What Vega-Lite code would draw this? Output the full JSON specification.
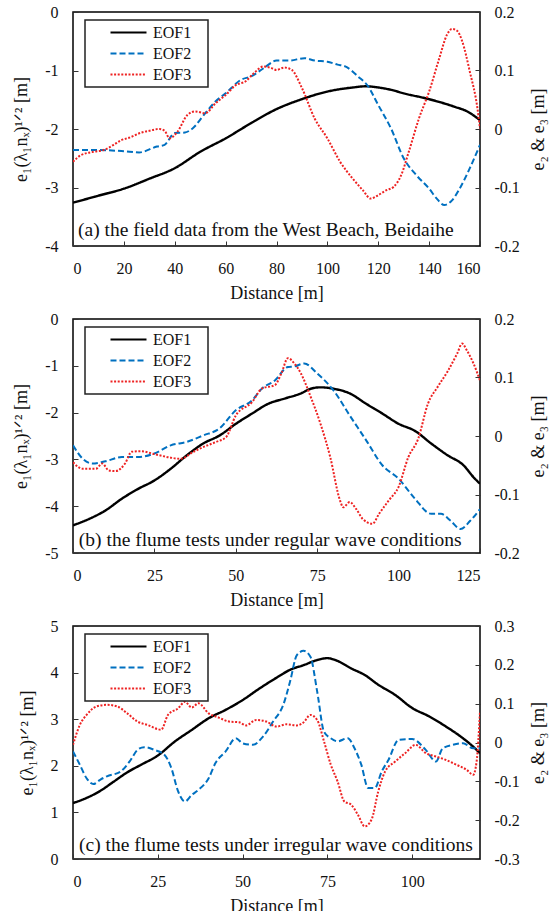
{
  "$schema": "https://vega.github.io/schema/vega-lite/v6.json",
  "background": "white",
  "padding": {"left": 11, "top": 3, "right": 3, "bottom": 5},
  "config": {
    "font": "Liberation Serif, Times New Roman, DejaVu Serif, serif",
    "view": {"stroke": "black", "strokeWidth": 1.5},
    "axis": {"grid": false, "domain": false, "labelFont": "Liberation Serif, Times New Roman, DejaVu Serif, serif", "titleFont": "Liberation Serif, Times New Roman, DejaVu Serif, serif", "labelFontSize": 16, "titleFontSize": 18, "titleFontWeight": "normal", "labelColor": "#111", "titleColor": "#111", "tickColor": "#333", "tickSize": -5, "tickWidth": 1},
    "legend": {"orient": "none", "legendX": 12, "legendY": 8, "strokeColor": "#222", "strokeWidth": 1.5, "fillColor": "white", "padding": 4, "symbolType": "M-2.571,0H2.571", "symbolSize": 196, "symbolOffset": 31, "symbolStrokeWidth": 2.2, "labelFont": "Liberation Serif, Times New Roman, DejaVu Serif, serif", "labelFontSize": 16, "labelColor": "#111", "labelOffset": 16, "rowPadding": 4, "titleOrient": "right", "titleOpacity": 0, "titleFontSize": 16, "titlePadding": 0, "titleFont": "DejaVu Sans"}
  },
  "datasets": {
    "curves": [
      {"panel":"a","series":"EOF1","distance":0,"value":-3.26},{"panel":"a","series":"EOF1","distance":10,"value":-3.14},{"panel":"a","series":"EOF1","distance":20,"value":-3.02},{"panel":"a","series":"EOF1","distance":30,"value":-2.85},{"panel":"a","series":"EOF1","distance":40,"value":-2.67},{"panel":"a","series":"EOF1","distance":50,"value":-2.39},{"panel":"a","series":"EOF1","distance":60,"value":-2.16},{"panel":"a","series":"EOF1","distance":70,"value":-1.9},{"panel":"a","series":"EOF1","distance":80,"value":-1.66},{"panel":"a","series":"EOF1","distance":90,"value":-1.49},{"panel":"a","series":"EOF1","distance":100,"value":-1.36},{"panel":"a","series":"EOF1","distance":110,"value":-1.29},{"panel":"a","series":"EOF1","distance":115,"value":-1.27},{"panel":"a","series":"EOF1","distance":120,"value":-1.29},{"panel":"a","series":"EOF1","distance":125,"value":-1.33},{"panel":"a","series":"EOF1","distance":130,"value":-1.39},{"panel":"a","series":"EOF1","distance":140,"value":-1.49},{"panel":"a","series":"EOF1","distance":150,"value":-1.62},{"panel":"a","series":"EOF1","distance":155,"value":-1.7},{"panel":"a","series":"EOF1","distance":160,"value":-1.85},

      {"panel":"a","series":"EOF2","distance":0,"value":-0.036},{"panel":"a","series":"EOF2","distance":10,"value":-0.036},{"panel":"a","series":"EOF2","distance":20,"value":-0.038},{"panel":"a","series":"EOF2","distance":26,"value":-0.04},{"panel":"a","series":"EOF2","distance":33,"value":-0.03},{"panel":"a","series":"EOF2","distance":36,"value":-0.027},{"panel":"a","series":"EOF2","distance":40,"value":-0.007},{"panel":"a","series":"EOF2","distance":44,"value":-0.006},{"panel":"a","series":"EOF2","distance":47,"value":0.001},{"panel":"a","series":"EOF2","distance":52,"value":0.027},{"panel":"a","series":"EOF2","distance":56,"value":0.047},{"panel":"a","series":"EOF2","distance":60,"value":0.061},{"panel":"a","series":"EOF2","distance":66,"value":0.084},{"panel":"a","series":"EOF2","distance":70,"value":0.09},{"panel":"a","series":"EOF2","distance":75,"value":0.104},{"panel":"a","series":"EOF2","distance":80,"value":0.117},{"panel":"a","series":"EOF2","distance":85,"value":0.117},{"panel":"a","series":"EOF2","distance":91,"value":0.121},{"panel":"a","series":"EOF2","distance":95,"value":0.117},{"panel":"a","series":"EOF2","distance":100,"value":0.115},{"panel":"a","series":"EOF2","distance":104,"value":0.11},{"panel":"a","series":"EOF2","distance":107,"value":0.107},{"panel":"a","series":"EOF2","distance":112,"value":0.09},{"panel":"a","series":"EOF2","distance":116,"value":0.073},{"panel":"a","series":"EOF2","distance":120,"value":0.041},{"panel":"a","series":"EOF2","distance":125,"value":0.001},{"panel":"a","series":"EOF2","distance":130,"value":-0.05},{"panel":"a","series":"EOF2","distance":135,"value":-0.079},{"panel":"a","series":"EOF2","distance":140,"value":-0.102},{"panel":"a","series":"EOF2","distance":143,"value":-0.119},{"panel":"a","series":"EOF2","distance":146,"value":-0.13},{"panel":"a","series":"EOF2","distance":149,"value":-0.122},{"panel":"a","series":"EOF2","distance":152,"value":-0.102},{"panel":"a","series":"EOF2","distance":156,"value":-0.067},{"panel":"a","series":"EOF2","distance":160,"value":-0.027},

      {"panel":"a","series":"EOF3","distance":0,"value":-0.056},{"panel":"a","series":"EOF3","distance":3,"value":-0.045},{"panel":"a","series":"EOF3","distance":8,"value":-0.039},{"panel":"a","series":"EOF3","distance":12,"value":-0.036},{"panel":"a","series":"EOF3","distance":16,"value":-0.027},{"panel":"a","series":"EOF3","distance":19,"value":-0.019},{"panel":"a","series":"EOF3","distance":22,"value":-0.015},{"panel":"a","series":"EOF3","distance":27,"value":-0.006},{"panel":"a","series":"EOF3","distance":30,"value":-0.003},{"panel":"a","series":"EOF3","distance":34,"value":0.0},{"panel":"a","series":"EOF3","distance":36,"value":-0.003},{"panel":"a","series":"EOF3","distance":38,"value":-0.016},{"panel":"a","series":"EOF3","distance":41,"value":-0.005},{"panel":"a","series":"EOF3","distance":45,"value":0.024},{"panel":"a","series":"EOF3","distance":48,"value":0.03},{"panel":"a","series":"EOF3","distance":52,"value":0.027},{"panel":"a","series":"EOF3","distance":56,"value":0.044},{"panel":"a","series":"EOF3","distance":60,"value":0.058},{"panel":"a","series":"EOF3","distance":64,"value":0.075},{"panel":"a","series":"EOF3","distance":68,"value":0.082},{"panel":"a","series":"EOF3","distance":71,"value":0.095},{"panel":"a","series":"EOF3","distance":75,"value":0.107},{"panel":"a","series":"EOF3","distance":78,"value":0.104},{"panel":"a","series":"EOF3","distance":80,"value":0.101},{"panel":"a","series":"EOF3","distance":83,"value":0.105},{"panel":"a","series":"EOF3","distance":86,"value":0.101},{"panel":"a","series":"EOF3","distance":90,"value":0.07},{"panel":"a","series":"EOF3","distance":95,"value":0.018},{"panel":"a","series":"EOF3","distance":100,"value":-0.016},{"panel":"a","series":"EOF3","distance":105,"value":-0.056},{"panel":"a","series":"EOF3","distance":110,"value":-0.085},{"panel":"a","series":"EOF3","distance":114,"value":-0.105},{"panel":"a","series":"EOF3","distance":117,"value":-0.119},{"panel":"a","series":"EOF3","distance":120,"value":-0.113},{"panel":"a","series":"EOF3","distance":123,"value":-0.105},{"panel":"a","series":"EOF3","distance":126,"value":-0.099},{"panel":"a","series":"EOF3","distance":129,"value":-0.079},{"panel":"a","series":"EOF3","distance":132,"value":-0.039},{"panel":"a","series":"EOF3","distance":136,"value":0.018},{"panel":"a","series":"EOF3","distance":140,"value":0.064},{"panel":"a","series":"EOF3","distance":144,"value":0.121},{"panel":"a","series":"EOF3","distance":147,"value":0.161},{"panel":"a","series":"EOF3","distance":149,"value":0.171},{"panel":"a","series":"EOF3","distance":151,"value":0.168},{"panel":"a","series":"EOF3","distance":153,"value":0.15},{"panel":"a","series":"EOF3","distance":156,"value":0.098},{"panel":"a","series":"EOF3","distance":159,"value":0.035},{"panel":"a","series":"EOF3","distance":160,"value":0.001},

      {"panel":"b","series":"EOF1","distance":0,"value":-4.41},{"panel":"b","series":"EOF1","distance":5,"value":-4.27},{"panel":"b","series":"EOF1","distance":10,"value":-4.09},{"panel":"b","series":"EOF1","distance":15,"value":-3.84},{"panel":"b","series":"EOF1","distance":20,"value":-3.63},{"panel":"b","series":"EOF1","distance":25,"value":-3.45},{"panel":"b","series":"EOF1","distance":30,"value":-3.2},{"panel":"b","series":"EOF1","distance":35,"value":-2.91},{"panel":"b","series":"EOF1","distance":40,"value":-2.66},{"panel":"b","series":"EOF1","distance":45,"value":-2.49},{"panel":"b","series":"EOF1","distance":50,"value":-2.24},{"panel":"b","series":"EOF1","distance":55,"value":-2.02},{"panel":"b","series":"EOF1","distance":60,"value":-1.81},{"panel":"b","series":"EOF1","distance":65,"value":-1.7},{"panel":"b","series":"EOF1","distance":70,"value":-1.59},{"panel":"b","series":"EOF1","distance":73,"value":-1.49},{"panel":"b","series":"EOF1","distance":76,"value":-1.46},{"panel":"b","series":"EOF1","distance":80,"value":-1.49},{"panel":"b","series":"EOF1","distance":85,"value":-1.59},{"panel":"b","series":"EOF1","distance":90,"value":-1.81},{"panel":"b","series":"EOF1","distance":95,"value":-2.02},{"panel":"b","series":"EOF1","distance":100,"value":-2.24},{"panel":"b","series":"EOF1","distance":105,"value":-2.39},{"panel":"b","series":"EOF1","distance":110,"value":-2.66},{"panel":"b","series":"EOF1","distance":115,"value":-2.91},{"panel":"b","series":"EOF1","distance":120,"value":-3.13},{"panel":"b","series":"EOF1","distance":123,"value":-3.38},{"panel":"b","series":"EOF1","distance":125,"value":-3.52},

      {"panel":"b","series":"EOF2","distance":0,"value":-0.016},{"panel":"b","series":"EOF2","distance":3,"value":-0.039},{"panel":"b","series":"EOF2","distance":6,"value":-0.047},{"panel":"b","series":"EOF2","distance":10,"value":-0.043},{"panel":"b","series":"EOF2","distance":15,"value":-0.036},{"panel":"b","series":"EOF2","distance":20,"value":-0.036},{"panel":"b","series":"EOF2","distance":25,"value":-0.03},{"panel":"b","series":"EOF2","distance":30,"value":-0.016},{"panel":"b","series":"EOF2","distance":35,"value":-0.01},{"panel":"b","series":"EOF2","distance":40,"value":0.001},{"panel":"b","series":"EOF2","distance":45,"value":0.013},{"panel":"b","series":"EOF2","distance":50,"value":0.044},{"panel":"b","series":"EOF2","distance":55,"value":0.061},{"panel":"b","series":"EOF2","distance":58,"value":0.081},{"panel":"b","series":"EOF2","distance":62,"value":0.095},{"panel":"b","series":"EOF2","distance":66,"value":0.118},{"panel":"b","series":"EOF2","distance":68,"value":0.119},{"panel":"b","series":"EOF2","distance":71,"value":0.124},{"panel":"b","series":"EOF2","distance":75,"value":0.107},{"panel":"b","series":"EOF2","distance":80,"value":0.078},{"panel":"b","series":"EOF2","distance":85,"value":0.035},{"panel":"b","series":"EOF2","distance":90,"value":-0.007},{"panel":"b","series":"EOF2","distance":95,"value":-0.05},{"panel":"b","series":"EOF2","distance":100,"value":-0.073},{"panel":"b","series":"EOF2","distance":105,"value":-0.107},{"panel":"b","series":"EOF2","distance":110,"value":-0.133},{"panel":"b","series":"EOF2","distance":113,"value":-0.133},{"panel":"b","series":"EOF2","distance":116,"value":-0.145},{"panel":"b","series":"EOF2","distance":119,"value":-0.159},{"panel":"b","series":"EOF2","distance":122,"value":-0.145},{"panel":"b","series":"EOF2","distance":125,"value":-0.125},

      {"panel":"b","series":"EOF3","distance":0,"value":-0.045},{"panel":"b","series":"EOF3","distance":3,"value":-0.056},{"panel":"b","series":"EOF3","distance":7,"value":-0.056},{"panel":"b","series":"EOF3","distance":9,"value":-0.047},{"panel":"b","series":"EOF3","distance":11,"value":-0.059},{"panel":"b","series":"EOF3","distance":13,"value":-0.06},{"panel":"b","series":"EOF3","distance":16,"value":-0.047},{"panel":"b","series":"EOF3","distance":18,"value":-0.027},{"panel":"b","series":"EOF3","distance":21,"value":-0.026},{"panel":"b","series":"EOF3","distance":25,"value":-0.031},{"panel":"b","series":"EOF3","distance":30,"value":-0.037},{"panel":"b","series":"EOF3","distance":33,"value":-0.039},{"panel":"b","series":"EOF3","distance":37,"value":-0.027},{"panel":"b","series":"EOF3","distance":40,"value":-0.019},{"panel":"b","series":"EOF3","distance":44,"value":-0.01},{"panel":"b","series":"EOF3","distance":47,"value":-0.002},{"panel":"b","series":"EOF3","distance":50,"value":0.035},{"panel":"b","series":"EOF3","distance":55,"value":0.058},{"panel":"b","series":"EOF3","distance":58,"value":0.081},{"panel":"b","series":"EOF3","distance":62,"value":0.087},{"panel":"b","series":"EOF3","distance":64,"value":0.107},{"panel":"b","series":"EOF3","distance":66,"value":0.133},{"panel":"b","series":"EOF3","distance":68,"value":0.124},{"panel":"b","series":"EOF3","distance":70,"value":0.107},{"panel":"b","series":"EOF3","distance":73,"value":0.067},{"panel":"b","series":"EOF3","distance":76,"value":0.021},{"panel":"b","series":"EOF3","distance":79,"value":-0.036},{"panel":"b","series":"EOF3","distance":82,"value":-0.11},{"panel":"b","series":"EOF3","distance":83,"value":-0.122},{"panel":"b","series":"EOF3","distance":85,"value":-0.113},{"panel":"b","series":"EOF3","distance":87,"value":-0.125},{"panel":"b","series":"EOF3","distance":89,"value":-0.142},{"panel":"b","series":"EOF3","distance":92,"value":-0.15},{"panel":"b","series":"EOF3","distance":94,"value":-0.133},{"panel":"b","series":"EOF3","distance":97,"value":-0.11},{"panel":"b","series":"EOF3","distance":100,"value":-0.087},{"panel":"b","series":"EOF3","distance":103,"value":-0.036},{"panel":"b","series":"EOF3","distance":106,"value":-0.005},{"panel":"b","series":"EOF3","distance":109,"value":0.055},{"panel":"b","series":"EOF3","distance":112,"value":0.084},{"panel":"b","series":"EOF3","distance":115,"value":0.11},{"panel":"b","series":"EOF3","distance":118,"value":0.141},{"panel":"b","series":"EOF3","distance":119.5,"value":0.158},{"panel":"b","series":"EOF3","distance":121,"value":0.146},{"panel":"b","series":"EOF3","distance":123,"value":0.124},{"panel":"b","series":"EOF3","distance":125,"value":0.095},

      {"panel":"c","series":"EOF1","distance":0,"value":1.2},{"panel":"c","series":"EOF1","distance":4,"value":1.31},{"panel":"c","series":"EOF1","distance":8,"value":1.46},{"panel":"c","series":"EOF1","distance":12,"value":1.66},{"panel":"c","series":"EOF1","distance":16,"value":1.86},{"panel":"c","series":"EOF1","distance":20,"value":2.02},{"panel":"c","series":"EOF1","distance":25,"value":2.22},{"panel":"c","series":"EOF1","distance":30,"value":2.52},{"panel":"c","series":"EOF1","distance":35,"value":2.77},{"panel":"c","series":"EOF1","distance":40,"value":3.02},{"panel":"c","series":"EOF1","distance":45,"value":3.2},{"panel":"c","series":"EOF1","distance":50,"value":3.41},{"panel":"c","series":"EOF1","distance":55,"value":3.66},{"panel":"c","series":"EOF1","distance":60,"value":3.89},{"panel":"c","series":"EOF1","distance":64,"value":4.06},{"panel":"c","series":"EOF1","distance":68,"value":4.16},{"panel":"c","series":"EOF1","distance":72,"value":4.27},{"panel":"c","series":"EOF1","distance":75,"value":4.31},{"panel":"c","series":"EOF1","distance":78,"value":4.25},{"panel":"c","series":"EOF1","distance":82,"value":4.09},{"panel":"c","series":"EOF1","distance":86,"value":3.95},{"panel":"c","series":"EOF1","distance":90,"value":3.74},{"panel":"c","series":"EOF1","distance":95,"value":3.52},{"panel":"c","series":"EOF1","distance":100,"value":3.24},{"panel":"c","series":"EOF1","distance":105,"value":3.06},{"panel":"c","series":"EOF1","distance":110,"value":2.84},{"panel":"c","series":"EOF1","distance":115,"value":2.59},{"panel":"c","series":"EOF1","distance":118,"value":2.41},{"panel":"c","series":"EOF1","distance":120,"value":2.27},

      {"panel":"c","series":"EOF2","distance":0,"value":-0.023},{"panel":"c","series":"EOF2","distance":2,"value":-0.057},{"panel":"c","series":"EOF2","distance":4,"value":-0.092},{"panel":"c","series":"EOF2","distance":6,"value":-0.107},{"panel":"c","series":"EOF2","distance":8,"value":-0.096},{"panel":"c","series":"EOF2","distance":10,"value":-0.087},{"panel":"c","series":"EOF2","distance":14,"value":-0.075},{"panel":"c","series":"EOF2","distance":17,"value":-0.045},{"panel":"c","series":"EOF2","distance":19,"value":-0.019},{"panel":"c","series":"EOF2","distance":21,"value":-0.012},{"panel":"c","series":"EOF2","distance":24,"value":-0.019},{"panel":"c","series":"EOF2","distance":27,"value":-0.032},{"panel":"c","series":"EOF2","distance":29,"value":-0.066},{"panel":"c","series":"EOF2","distance":31,"value":-0.126},{"panel":"c","series":"EOF2","distance":33,"value":-0.152},{"panel":"c","series":"EOF2","distance":35,"value":-0.135},{"panel":"c","series":"EOF2","distance":37,"value":-0.122},{"panel":"c","series":"EOF2","distance":40,"value":-0.092},{"panel":"c","series":"EOF2","distance":42,"value":-0.053},{"panel":"c","series":"EOF2","distance":45,"value":-0.023},{"panel":"c","series":"EOF2","distance":48,"value":0.011},{"panel":"c","series":"EOF2","distance":50,"value":-0.002},{"panel":"c","series":"EOF2","distance":53,"value":-0.006},{"panel":"c","series":"EOF2","distance":56,"value":0.015},{"panel":"c","series":"EOF2","distance":59,"value":0.054},{"panel":"c","series":"EOF2","distance":62,"value":0.097},{"panel":"c","series":"EOF2","distance":64,"value":0.157},{"panel":"c","series":"EOF2","distance":66,"value":0.225},{"panel":"c","series":"EOF2","distance":68,"value":0.236},{"panel":"c","series":"EOF2","distance":70,"value":0.221},{"panel":"c","series":"EOF2","distance":72,"value":0.131},{"panel":"c","series":"EOF2","distance":74,"value":0.028},{"panel":"c","series":"EOF2","distance":76,"value":0.011},{"panel":"c","series":"EOF2","distance":78,"value":0.003},{"panel":"c","series":"EOF2","distance":81,"value":0.011},{"panel":"c","series":"EOF2","distance":83,"value":-0.015},{"panel":"c","series":"EOF2","distance":85,"value":-0.057},{"panel":"c","series":"EOF2","distance":87,"value":-0.117},{"panel":"c","series":"EOF2","distance":89,"value":-0.117},{"panel":"c","series":"EOF2","distance":91,"value":-0.075},{"panel":"c","series":"EOF2","distance":93,"value":-0.045},{"panel":"c","series":"EOF2","distance":96,"value":0.007},{"panel":"c","series":"EOF2","distance":100,"value":0.009},{"panel":"c","series":"EOF2","distance":104,"value":-0.019},{"panel":"c","series":"EOF2","distance":107,"value":-0.049},{"panel":"c","series":"EOF2","distance":109,"value":-0.015},{"panel":"c","series":"EOF2","distance":112,"value":-0.006},{"panel":"c","series":"EOF2","distance":115,"value":-0.002},{"panel":"c","series":"EOF2","distance":118,"value":-0.015},{"panel":"c","series":"EOF2","distance":120,"value":-0.015},

      {"panel":"c","series":"EOF3","distance":0,"value":-0.006},{"panel":"c","series":"EOF3","distance":2,"value":0.045},{"panel":"c","series":"EOF3","distance":4,"value":0.071},{"panel":"c","series":"EOF3","distance":7,"value":0.093},{"panel":"c","series":"EOF3","distance":10,"value":0.097},{"panel":"c","series":"EOF3","distance":13,"value":0.093},{"panel":"c","series":"EOF3","distance":16,"value":0.075},{"panel":"c","series":"EOF3","distance":19,"value":0.054},{"panel":"c","series":"EOF3","distance":22,"value":0.045},{"panel":"c","series":"EOF3","distance":26,"value":0.033},{"panel":"c","series":"EOF3","distance":28,"value":0.071},{"panel":"c","series":"EOF3","distance":31,"value":0.088},{"panel":"c","series":"EOF3","distance":33,"value":0.105},{"panel":"c","series":"EOF3","distance":35,"value":0.09},{"panel":"c","series":"EOF3","distance":37,"value":0.101},{"panel":"c","series":"EOF3","distance":40,"value":0.075},{"panel":"c","series":"EOF3","distance":43,"value":0.064},{"panel":"c","series":"EOF3","distance":46,"value":0.054},{"panel":"c","series":"EOF3","distance":49,"value":0.052},{"panel":"c","series":"EOF3","distance":51,"value":0.044},{"panel":"c","series":"EOF3","distance":54,"value":0.058},{"panel":"c","series":"EOF3","distance":57,"value":0.054},{"panel":"c","series":"EOF3","distance":60,"value":0.041},{"panel":"c","series":"EOF3","distance":63,"value":0.047},{"panel":"c","series":"EOF3","distance":66,"value":0.044},{"panel":"c","series":"EOF3","distance":68,"value":0.052},{"panel":"c","series":"EOF3","distance":70,"value":0.071},{"panel":"c","series":"EOF3","distance":72,"value":0.058},{"panel":"c","series":"EOF3","distance":74,"value":0.003},{"panel":"c","series":"EOF3","distance":76,"value":-0.057},{"panel":"c","series":"EOF3","distance":78,"value":-0.1},{"panel":"c","series":"EOF3","distance":80,"value":-0.152},{"panel":"c","series":"EOF3","distance":82,"value":-0.16},{"panel":"c","series":"EOF3","distance":84,"value":-0.186},{"panel":"c","series":"EOF3","distance":86,"value":-0.216},{"panel":"c","series":"EOF3","distance":88,"value":-0.199},{"panel":"c","series":"EOF3","distance":90,"value":-0.126},{"panel":"c","series":"EOF3","distance":92,"value":-0.075},{"panel":"c","series":"EOF3","distance":95,"value":-0.049},{"panel":"c","series":"EOF3","distance":98,"value":-0.027},{"panel":"c","series":"EOF3","distance":101,"value":-0.006},{"panel":"c","series":"EOF3","distance":104,"value":-0.027},{"panel":"c","series":"EOF3","distance":107,"value":-0.036},{"panel":"c","series":"EOF3","distance":110,"value":-0.045},{"panel":"c","series":"EOF3","distance":113,"value":-0.057},{"panel":"c","series":"EOF3","distance":116,"value":-0.07},{"panel":"c","series":"EOF3","distance":118,"value":-0.083},{"panel":"c","series":"EOF3","distance":119,"value":-0.049},{"panel":"c","series":"EOF3","distance":120,"value":0.08}
    ]
  },
  "resolve": {"scale": {"color": "independent", "strokeDash": "independent"}, "legend": {"color": "independent", "strokeDash": "independent"}},
  "spacing": 7,
  "vconcat": [
    {
      "width": 407, "height": 234,
      "data": {"name": "curves"},
      "transform": [{"filter": "datum.panel === 'a'"}],
      "resolve": {"scale": {"y": "independent"}},
      "layer": [
        {
          "layer": [
            {
              "transform": [{"filter": "datum.series === 'EOF1'"}],
              "mark": {"type": "line", "strokeWidth": 2.4, "interpolate": "monotone", "clip": true},
              "encoding": {
                "x": {"field": "distance", "type": "quantitative", "scale": {"domain": [0, 160], "nice": false}, "axis": {"values": [0,20,40,60,80,100,120,140,160], "title": "Distance [m]", "labelPadding": 19, "titlePadding": 8}},
                "y": {"field": "value", "type": "quantitative", "scale": {"domain": [-4, 0], "nice": false, "zero": false}, "axis": {"orient": "left", "values": [-4,-3,-2,-1,0], "labelExpr": "datum.value + ''", "title": "e₁(λ₁nₓ)¹ᐟ² [m]", "labelPadding": 20, "titlePadding": 14}},
                "color": {"field": "series", "type": "nominal", "scale": {"domain": ["EOF1","EOF2","EOF3"], "range": ["#000000","#0070c0","#ee2222"]}, "legend": {"title": "\u2800"}},
                "strokeDash": {"field": "series", "type": "nominal", "scale": {"domain": ["EOF1","EOF2","EOF3"], "range": [[1,0],[6,3],[2,1.6]]}, "legend": {"title": "\u2800"}}
              }
            },
            {
              "data": {"values": [{"caption": "(a) the field data from the West Beach, Beidaihe"}]},
              "mark": {"type": "text", "align": "left", "baseline": "middle", "font": "Liberation Serif, Times New Roman, DejaVu Serif, serif", "fontSize": 19.5, "color": "#111"},
              "encoding": {"x": {"datum": 2}, "y": {"datum": -3.73}, "text": {"field": "caption"}}
            }
          ]
        },
        {
          "transform": [{"filter": "datum.series !== 'EOF1'"}],
          "mark": {"type": "line", "strokeWidth": 2, "interpolate": "monotone", "clip": true},
          "encoding": {
            "x": {"field": "distance", "type": "quantitative"},
            "y": {"field": "value", "type": "quantitative", "scale": {"domain": [-0.2, 0.2], "nice": false, "zero": false}, "axis": {"orient": "right", "values": [-0.2,-0.1,0,0.1,0.2], "labelExpr": "datum.value + ''", "title": "e₂ & e₃ [m]", "titleAngle": 270, "labelPadding": 19, "titlePadding": 28}},
            "color": {"field": "series", "type": "nominal"},
            "strokeDash": {"field": "series", "type": "nominal"}
          }
        }
      ]
    },
    {
      "width": 407, "height": 234,
      "data": {"name": "curves"},
      "transform": [{"filter": "datum.panel === 'b'"}],
      "resolve": {"scale": {"y": "independent"}},
      "layer": [
        {
          "layer": [
            {
              "transform": [{"filter": "datum.series === 'EOF1'"}],
              "mark": {"type": "line", "strokeWidth": 2.4, "interpolate": "monotone", "clip": true},
              "encoding": {
                "x": {"field": "distance", "type": "quantitative", "scale": {"domain": [0, 125], "nice": false}, "axis": {"values": [0,25,50,75,100,125], "title": "Distance [m]", "labelPadding": 19, "titlePadding": 8}},
                "y": {"field": "value", "type": "quantitative", "scale": {"domain": [-5, 0], "nice": false, "zero": false}, "axis": {"orient": "left", "values": [-5,-4,-3,-2,-1,0], "labelExpr": "datum.value + ''", "title": "e₁(λ₁nₓ)¹ᐟ² [m]", "labelPadding": 20, "titlePadding": 14}},
                "color": {"field": "series", "type": "nominal", "scale": {"domain": ["EOF1","EOF2","EOF3"], "range": ["#000000","#0070c0","#ee2222"]}, "legend": {"title": "\u2800"}},
                "strokeDash": {"field": "series", "type": "nominal", "scale": {"domain": ["EOF1","EOF2","EOF3"], "range": [[1,0],[6,3],[2,1.6]]}, "legend": {"title": "\u2800"}}
              }
            },
            {
              "data": {"values": [{"caption": "(b) the flume tests under regular wave conditions"}]},
              "mark": {"type": "text", "align": "left", "baseline": "middle", "font": "Liberation Serif, Times New Roman, DejaVu Serif, serif", "fontSize": 19.5, "color": "#111"},
              "encoding": {"x": {"datum": 1.8}, "y": {"datum": -4.72}, "text": {"field": "caption"}}
            }
          ]
        },
        {
          "transform": [{"filter": "datum.series !== 'EOF1'"}],
          "mark": {"type": "line", "strokeWidth": 2, "interpolate": "monotone", "clip": true},
          "encoding": {
            "x": {"field": "distance", "type": "quantitative"},
            "y": {"field": "value", "type": "quantitative", "scale": {"domain": [-0.2, 0.2], "nice": false, "zero": false}, "axis": {"orient": "right", "values": [-0.2,-0.1,0,0.1,0.2], "labelExpr": "datum.value + ''", "title": "e₂ & e₃ [m]", "titleAngle": 270, "labelPadding": 19, "titlePadding": 28}},
            "color": {"field": "series", "type": "nominal"},
            "strokeDash": {"field": "series", "type": "nominal"}
          }
        }
      ]
    },
    {
      "width": 407, "height": 233,
      "data": {"name": "curves"},
      "transform": [{"filter": "datum.panel === 'c'"}],
      "resolve": {"scale": {"y": "independent"}},
      "layer": [
        {
          "layer": [
            {
              "transform": [{"filter": "datum.series === 'EOF1'"}],
              "mark": {"type": "line", "strokeWidth": 2.4, "interpolate": "monotone", "clip": true},
              "encoding": {
                "x": {"field": "distance", "type": "quantitative", "scale": {"domain": [0, 120], "nice": false}, "axis": {"values": [0,25,50,75,100], "title": "Distance [m]", "labelPadding": 19, "titlePadding": 8}},
                "y": {"field": "value", "type": "quantitative", "scale": {"domain": [0, 5], "nice": false, "zero": false}, "axis": {"orient": "left", "values": [0,1,2,3,4,5], "labelExpr": "datum.value + ''", "title": "e₁(λ₁nₓ)¹ᐟ² [m]", "labelPadding": 20, "titlePadding": 14}},
                "color": {"field": "series", "type": "nominal", "scale": {"domain": ["EOF1","EOF2","EOF3"], "range": ["#000000","#0070c0","#ee2222"]}, "legend": {"title": "\u2800"}},
                "strokeDash": {"field": "series", "type": "nominal", "scale": {"domain": ["EOF1","EOF2","EOF3"], "range": [[1,0],[6,3],[2,1.6]]}, "legend": {"title": "\u2800"}}
              }
            },
            {
              "data": {"values": [{"caption": "(c) the flume tests under irregular wave conditions"}]},
              "mark": {"type": "text", "align": "left", "baseline": "middle", "font": "Liberation Serif, Times New Roman, DejaVu Serif, serif", "fontSize": 19.5, "color": "#111"},
              "encoding": {"x": {"datum": 1.8}, "y": {"datum": 0.3}, "text": {"field": "caption"}}
            }
          ]
        },
        {
          "transform": [{"filter": "datum.series !== 'EOF1'"}],
          "mark": {"type": "line", "strokeWidth": 2, "interpolate": "monotone", "clip": true},
          "encoding": {
            "x": {"field": "distance", "type": "quantitative"},
            "y": {"field": "value", "type": "quantitative", "scale": {"domain": [-0.3, 0.3], "nice": false, "zero": false}, "axis": {"orient": "right", "values": [-0.3,-0.2,-0.1,0,0.1,0.2,0.3], "labelExpr": "datum.value + ''", "title": "e₂ & e₃ [m]", "titleAngle": 270, "labelPadding": 19, "titlePadding": 28}},
            "color": {"field": "series", "type": "nominal"},
            "strokeDash": {"field": "series", "type": "nominal"}
          }
        }
      ]
    }
  ]
}
